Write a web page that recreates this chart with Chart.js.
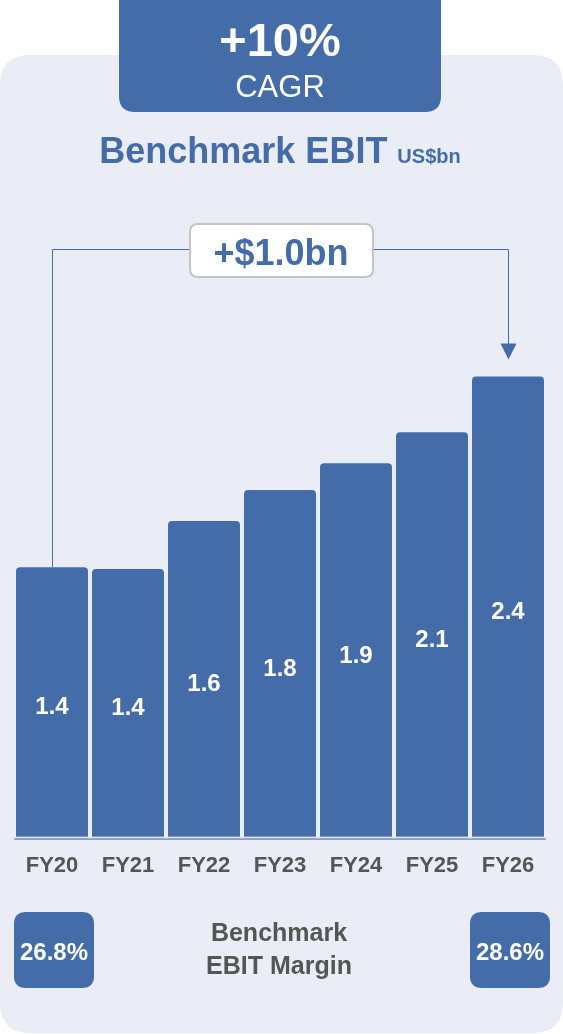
<!DOCTYPE html>
<html>
<head>
<meta charset="utf-8">
<script src="https://cdn.jsdelivr.net/npm/chart.js@4.4.1/dist/chart.umd.min.js"></script>
<style>
  html, body { margin: 0; padding: 0; background: #ffffff; }
  #wrap { width: 563px; height: 1034px; position: relative; }
</style>
</head>
<body>
<div id="wrap"><canvas id="ebitChart" width="563" height="1034"></canvas></div>
<script>
// =================================================================
// Benchmark EBIT (US$bn) FY20 - FY26
// =================================================================

const years = ['FY20', 'FY21', 'FY22', 'FY23', 'FY24', 'FY25', 'FY26'];
const ebit = [1.41, 1.40, 1.65, 1.81, 1.95, 2.11, 2.40];
const ebitLabels = ['1.4', '1.4', '1.6', '1.8', '1.9', '2.1', '2.4'];
const cagr = '+10%';
const growth = '+$1.0bn';
const margins = ['26.8%', '28.6%'];

const BLUE = '#436ca8';
const PANEL = '#eaedf5';
const GREY_TXT = '#555555';
const FONT = "'Liberation Sans', Arial, sans-serif";

function rrect(ctx, x, y, w, h, r) {
    ctx.beginPath();
    ctx.moveTo(x + r, y);
    ctx.lineTo(x + w - r, y);
    ctx.quadraticCurveTo(x + w, y, x + w, y + r);
    ctx.lineTo(x + w, y + h - r);
    ctx.quadraticCurveTo(x + w, y + h, x + w - r, y + h);
    ctx.lineTo(x + r, y + h);
    ctx.quadraticCurveTo(x, y + h, x, y + h - r);
    ctx.lineTo(x, y + r);
    ctx.quadraticCurveTo(x, y, x + r, y);
    ctx.closePath();
}

// panel, badge and title behind the bars
const backdrop = {
    id: 'backdrop',
    beforeDraw(chart) {
        const ctx = chart.ctx;
        ctx.save();
        ctx.fillStyle = PANEL;
        rrect(ctx, 0, 55, 563, 978, 30);
        ctx.fill();

        ctx.fillStyle = BLUE;
        rrect(ctx, 119, -20, 322, 132, 16);
        ctx.fill();

        ctx.fillStyle = '#ffffff';
        ctx.textAlign = 'center';
        ctx.textBaseline = 'alphabetic';
        ctx.font = 'bold 47px ' + FONT;
        ctx.fillText(cagr, 280, 56);
        ctx.font = '31px ' + FONT;
        ctx.fillText('CAGR', 280, 97);

        // title
        ctx.fillStyle = BLUE;
        ctx.font = 'bold 36px ' + FONT;
        ctx.textAlign = 'left';
        const t1 = 'Benchmark EBIT';
        const w1 = ctx.measureText(t1).width;
        ctx.font = 'bold 20px ' + FONT;
        const w2 = ctx.measureText('US$bn').width;
        const x0 = 280 - (w1 + 10 + w2) / 2;
        ctx.font = 'bold 36px ' + FONT;
        ctx.fillText(t1, x0, 163);
        ctx.font = 'bold 20px ' + FONT;
        ctx.fillText('US$bn', x0 + w1 + 10, 163);
        ctx.restore();
    },
    afterDatasetsDraw(chart) {
        const ctx = chart.ctx;
        const meta = chart.getDatasetMeta(0);
        const area = chart.chartArea;
        ctx.save();

        // light seam and baseline under the bars
        ctx.fillStyle = '#dfe5f0';
        ctx.fillRect(area.left, area.bottom - 2, area.right - area.left, 1.5);
        ctx.strokeStyle = BLUE;
        ctx.lineWidth = 1;
        ctx.beginPath();
        ctx.moveTo(area.left, area.bottom + 0.5);
        ctx.lineTo(area.right, area.bottom + 0.5);
        ctx.stroke();

        // value labels
        ctx.fillStyle = '#ffffff';
        ctx.font = 'bold 24px ' + FONT;
        ctx.textAlign = 'center';
        ctx.textBaseline = 'middle';
        meta.data.forEach((bar, i) => {
            ctx.fillText(ebitLabels[i], bar.x, (bar.y + bar.base) / 2 + 5);
        });

        // bracket from first bar to last bar
        const first = meta.data[0];
        const last = meta.data[meta.data.length - 1];
        const yTop = 249.5;
        const xl = Math.round(first.x) + 0.5;
        const xr = Math.round(last.x) + 0.5;
        ctx.strokeStyle = BLUE;
        ctx.lineWidth = 1;
        ctx.beginPath();
        ctx.moveTo(xl, first.y);
        ctx.lineTo(xl, yTop);
        ctx.lineTo(xr, yTop);
        ctx.lineTo(xr, last.y - 22);
        ctx.stroke();
        ctx.fillStyle = BLUE;
        ctx.beginPath();
        ctx.moveTo(xr - 8, last.y - 33);
        ctx.lineTo(xr + 8, last.y - 33);
        ctx.lineTo(xr, last.y - 17);
        ctx.closePath();
        ctx.fill();

        // growth box
        ctx.fillStyle = '#ffffff';
        ctx.strokeStyle = '#c4c4c4';
        ctx.lineWidth = 2;
        rrect(ctx, 190, 224, 183, 53, 8);
        ctx.fill();
        ctx.stroke();
        ctx.fillStyle = BLUE;
        ctx.font = 'bold 36px ' + FONT;
        ctx.textBaseline = 'alphabetic';
        ctx.fillText(growth, 281, 265);

        // margin boxes
        const boxes = [[14, margins[0]], [470, margins[1]]];
        boxes.forEach(([bx, txt]) => {
            ctx.fillStyle = BLUE;
            rrect(ctx, bx, 912, 80, 76, 12);
            ctx.fill();
            ctx.fillStyle = '#ffffff';
            ctx.font = 'bold 24px ' + FONT;
            ctx.fillText(txt, bx + 40, 960);
        });
        ctx.fillStyle = GREY_TXT;
        ctx.font = 'bold 25px ' + FONT;
        ctx.fillText('Benchmark', 279, 941);
        ctx.fillText('EBIT Margin', 279, 974);
        ctx.restore();
    }
};

new Chart(document.getElementById('ebitChart'), {
    type: 'bar',
    data: {
        labels: years,
        datasets: [{
            data: ebit,
            backgroundColor: BLUE,
            borderRadius: { topLeft: 4, topRight: 4, bottomLeft: 0, bottomRight: 0 },
            borderSkipped: false,
            barPercentage: 0.947,
            categoryPercentage: 1.0,
        }]
    },
    options: {
        responsive: false,
        animation: false,
        layout: { padding: { top: 261, left: 14, right: 17, bottom: 141 } },
        plugins: {
            legend: { display: false },
            tooltip: { enabled: false }
        },
        scales: {
            y: { display: false, min: 0, max: 3 },
            x: {
                grid: { display: false, drawTicks: false },
                border: { display: false },
                ticks: {
                    font: { family: FONT, size: 22, weight: 'bold' },
                    color: GREY_TXT,
                    padding: 14,
                }
            }
        }
    },
    plugins: [backdrop]
});
</script>
</body>
</html>
